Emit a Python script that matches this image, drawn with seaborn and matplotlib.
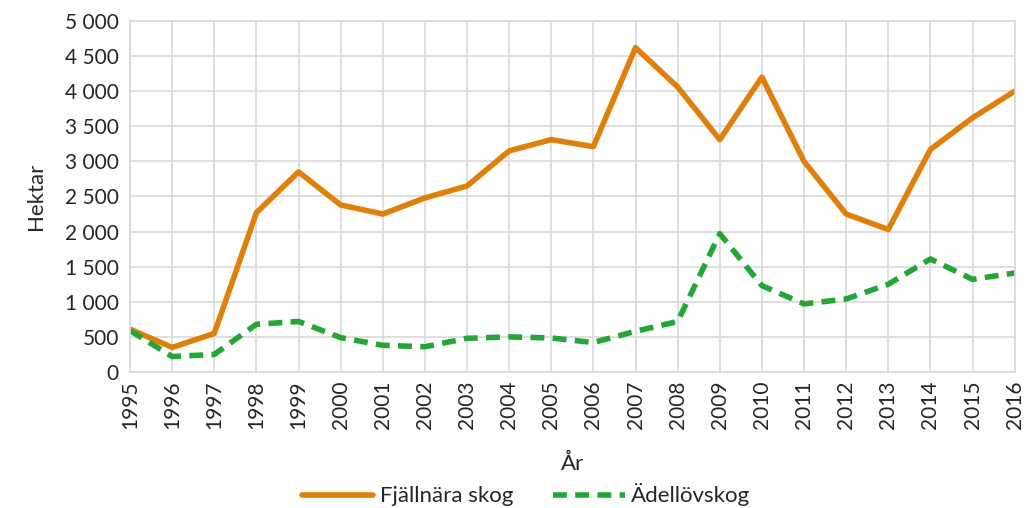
import matplotlib
matplotlib.use("Agg")
import matplotlib.pyplot as plt
import seaborn as sns
import pandas as pd
from matplotlib.ticker import FuncFormatter, MultipleLocator

years = list(range(1995, 2017))
fjallnara = [610, 350, 550, 2270, 2850, 2380, 2250, 2480, 2650, 3150, 3310, 3210,
             4620, 4060, 3310, 4200, 3000, 2250, 2030, 3170, 3620, 4000]
adellov = [590, 220, 250, 680, 720, 490, 380, 360, 480, 500, 485, 420,
           580, 720, 1970, 1230, 970, 1040, 1250, 1610, 1320, 1410]
series_names = ["Fjällnära skog", "Ädellövskog"]
colors = ["#E07F0A", "#22A636"]

df = pd.DataFrame({
    "År": years * 2,
    "Hektar": fjallnara + adellov,
    "Serie": [series_names[0]] * len(years) + [series_names[1]] * len(years),
})

sns.set_theme(style="white")
plt.rcParams["font.family"] = ["Lato", "DejaVu Sans"]

fig = plt.figure(figsize=(10.28, 5.08), dpi=100)
ax = fig.add_axes([0.1265, 0.2677, 0.8605, 0.691])

sns.lineplot(data=df, x="År", y="Hektar", hue="Serie", style="Serie",
             palette=colors, dashes={series_names[0]: "", series_names[1]: (2.5, 1.5)},
             linewidth=4, ax=ax, legend=True)

ax.set_xlim(1995, 2016)
ax.set_ylim(0, 5000)
ax.set_xticks(years)
ax.set_xticklabels([str(y) for y in years], rotation=90, fontsize=15)
ax.yaxis.set_major_locator(MultipleLocator(500))
ax.yaxis.set_major_formatter(FuncFormatter(lambda v, p: f"{int(v):,}".replace(",", " ")))
ax.tick_params(axis="y", labelsize=15, length=0, pad=8)
ax.tick_params(axis="x", length=0, pad=6)
ax.grid(True, color="#d9d9d9", linewidth=1.2)
for s in ax.spines.values():
    s.set_color("#d9d9d9")
    s.set_linewidth(1.2)

ax.set_xlabel("År", fontsize=16, labelpad=18)
ax.set_ylabel("Hektar", fontsize=16, labelpad=14)

handles, labels = ax.get_legend_handles_labels()
ax.get_legend().remove()
fig.legend(handles, labels, loc="center", bbox_to_anchor=(0.512, 0.026),
           ncol=2, frameon=False, fontsize=16, handlelength=3.2, columnspacing=1.8,
           handletextpad=0.3, borderaxespad=0, borderpad=0)

fig.savefig("out.png", dpi=100)
